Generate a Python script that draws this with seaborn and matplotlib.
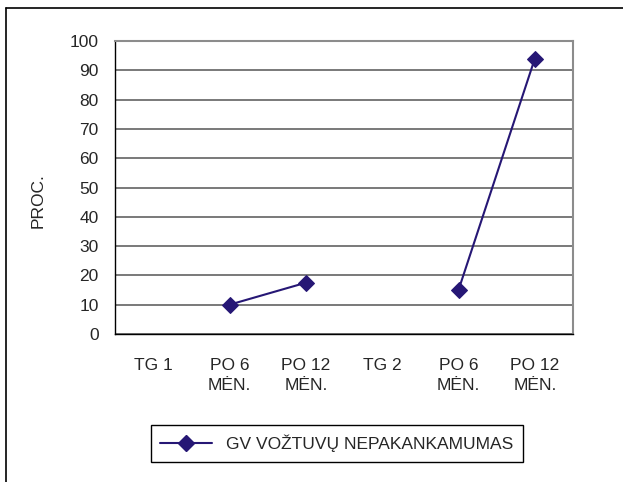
import numpy as np
import pandas as pd
import matplotlib
matplotlib.use("Agg")
import matplotlib.pyplot as plt
from matplotlib.lines import Line2D
import seaborn as sns

# data
categories = ["TG 1", "PO 6\nMĖN.", "PO 12\nMĖN.", "TG 2", "PO 6\nMĖN.", "PO 12\nMĖN."]
values = [np.nan, 10, 17.5, np.nan, 15, 94]
groups = [1, 1, 1, 2, 2, 2]
series_name = "GV VOŽTUVŲ NEPAKANKAMUMAS"
y_ticks = list(range(0, 101, 10))

sns.set_style("white")
plt.rcParams['font.family'] = ['Liberation Sans', 'DejaVu Sans']
plt.rcParams['font.size'] = 12.5

df = pd.DataFrame({"pos": range(len(categories)), "value": values, "group": groups}).dropna()

fig = plt.figure(figsize=(6.23, 4.82), dpi=100)
ax = fig.add_axes([115/623, 1-334/482, (573-115)/623, (334-41)/482])

line_col = "#261775"
sns.lineplot(data=df, x="pos", y="value", units="group", estimator=None,
             color=line_col, marker="D", markersize=8.5, markeredgecolor=line_col,
             linewidth=1.5, ax=ax, legend=False)

ax.set_xlim(-0.5, len(categories) - 0.5)
ax.set_ylim(0, 100)
ax.set_yticks(y_ticks)
ax.set_xticks(range(len(categories)))
ax.set_xticklabels(categories, linespacing=1.45)
ax.set_xticks(np.arange(-0.5, len(categories), 1), minor=True)
ax.tick_params(axis="x", which="major", length=0, pad=17)
ax.tick_params(axis="x", which="minor", length=4.3, width=1, color="black", direction="out")
ax.tick_params(axis="y", length=4.3, width=1, color="black", direction="out", pad=7.5)
ax.set_xlabel("")
ax.set_ylabel("PROC.")
ax.yaxis.set_label_coords(-0.152, 0.457)

ax.yaxis.grid(True, color="#555555", linewidth=1.1)
ax.set_axisbelow(True)
for s in ["left", "bottom"]:
    ax.spines[s].set_color("black")
    ax.spines[s].set_linewidth(1)
for s in ["top", "right"]:
    ax.spines[s].set_color("#8c8c8c")
    ax.spines[s].set_linewidth(1.5)

handle = Line2D([], [], color=line_col, marker="D", markersize=8.5, linewidth=1.5)
leg = fig.legend([handle], [series_name], loc="center", bbox_to_anchor=(337/623, 1-443.5/482),
                 frameon=True, fancybox=False, edgecolor="black", framealpha=1,
                 handlelength=3.0, borderpad=0.55, fontsize=12.5)
leg.get_frame().set_linewidth(1)

# outer chart frame
fig.add_artist(Line2D([6/623, 6/623], [0, 1-8/482], color="black", linewidth=1.2, transform=fig.transFigure))
fig.add_artist(Line2D([6/623, 1], [1-8/482, 1-8/482], color="black", linewidth=1.2, transform=fig.transFigure))

fig.savefig("out.png", dpi=100)
